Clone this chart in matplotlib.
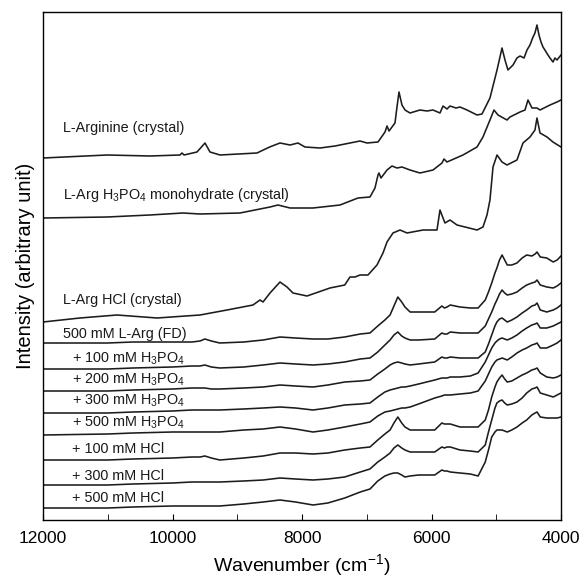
import matplotlib
matplotlib.use("Agg")
import matplotlib.pyplot as plt
from matplotlib.ticker import MultipleLocator

plt.rcParams['font.family'] = ['Liberation Sans', 'DejaVu Sans']
plt.rcParams['mathtext.fontset'] = 'custom'
plt.rcParams['mathtext.rm'] = 'Liberation Sans'
plt.rcParams['mathtext.it'] = 'Liberation Sans:italic'
plt.rcParams['mathtext.bf'] = 'Liberation Sans:bold'

# ---- crystal spectra (wavenumber, intensity in arbitrary offset units) ----
arg_wn = [12000, 11010, 10350, 9885, 9853, 9822, 9622, 9498, 9421, 9266, 8695, 8500, 8340, 8185, 8062,
          7954, 7722, 7490, 7259, 7104, 6996, 6826, 6718, 6687, 6656, 6564, 6533, 6502, 6456, 6409,
          6332, 6178, 6070, 5977, 5869, 5822, 5761, 5714, 5622, 5560, 5452, 5297, 5220, 5097, 4988,
          4911, 4865, 4819, 4741, 4680, 4633, 4571, 4525, 4479, 4432, 4402, 4371, 4340, 4309, 4278,
          4201, 4170, 4124, 4093, 4062, 4000]
arg_int = [362, 365, 364, 365, 367, 365, 368, 377, 368, 365, 367, 373, 377, 375, 377,
           373, 372, 374, 377, 379, 377, 378, 388, 394, 389, 397, 413, 428, 415, 410,
           407, 410, 409, 410, 407, 414, 411, 414, 412, 413, 410, 405, 406, 422, 450,
           472, 460, 450, 455, 462, 464, 462, 470, 475, 483, 487, 495, 485, 478, 473,
           465, 462, 458, 462, 460, 465]

phos_wn = [12000, 11010, 10350, 9838, 9575, 8958, 8494, 8371, 8185, 7830, 7413, 7135, 6950, 6873,
           6826, 6811, 6780, 6687, 6610, 6533, 6456, 6332, 6178, 5977, 5838, 5807, 5761, 5514,
           5297, 5205, 5097, 5035, 4973, 4834, 4788, 4633, 4556, 4510, 4448, 4371, 4324, 4170,
           4062, 4000]
phos_int = [302, 303, 305, 307, 306, 307, 313, 315, 312, 312, 315, 322, 323, 332,
            345, 347, 342, 350, 354, 352, 353, 350, 347, 350, 357, 361, 358, 365,
            373, 383, 400, 410, 405, 400, 403, 408, 410, 420, 412, 412, 410, 415,
            418, 420]

hcl_wn = [12000, 11429, 10857, 10239, 9575, 9158, 8757, 8649, 8602, 8494, 8340, 8232, 8139, 7923,
          7568, 7340, 7259, 7181, 7104, 6981, 6842, 6749, 6687, 6595, 6486, 6378, 6131, 5915,
          5869, 5822, 5792, 5714, 5606, 5297, 5205, 5143, 5097, 5050, 4988, 4911, 4834, 4680,
          4587, 4479, 4402, 4371, 4324, 4216, 4124, 4000]
hcl_int = [198, 202, 205, 202, 205, 210, 215, 220, 218, 227, 238, 233, 227, 224,
           232, 235, 243, 243, 245, 245, 255, 267, 278, 287, 290, 287, 290, 290,
           310, 302, 297, 300, 295, 290, 293, 305, 320, 353, 365, 358, 355, 360,
           377, 383, 390, 402, 387, 383, 378, 373]

# ---- freeze-dried solution spectra on a common wavenumber grid ----
sol_wn = [12000, 11000, 10610, 10000, 9700, 9575, 9500, 9400, 9270, 8900, 8600, 8340, 8100, 7830,
          7600, 7340, 7100, 6950, 6830, 6720, 6640, 6580, 6520, 6460, 6410, 6330, 6200, 5950,
          5840, 5800, 5760, 5710, 5560, 5400, 5280, 5170, 5120, 5070, 5020, 4990, 4950, 4910,
          4870, 4830, 4760, 4680, 4600, 4530, 4450, 4400, 4370, 4320, 4220, 4120, 4060, 4000]
fd_int = [177, 177, 178, 178, 178, 179, 181, 179, 177, 178, 180, 183, 182, 181,
          181, 183, 186, 187, 194, 200, 205, 214, 223, 218, 213, 208, 208, 208,
          214, 212, 213, 215, 213, 212, 212, 220, 228, 237, 247, 252, 260, 265,
          260, 255, 255, 257, 262, 265, 264, 266, 268, 263, 262, 258, 260, 264]
p100_int = [151, 151, 152, 153, 154, 154, 155, 153, 152, 153, 155, 157, 156, 155,
            156, 158, 161, 162, 168, 175, 180, 185, 188, 184, 182, 180, 180, 181,
            187, 186, 186, 188, 187, 187, 187, 194, 201, 208, 216, 220, 226, 230,
            227, 225, 226, 228, 232, 235, 237, 238, 240, 235, 233, 232, 234, 237]
p200_int = [129, 129, 130, 131, 132, 132, 132, 131, 131, 132, 133, 135, 134, 133,
            135, 138, 139, 140, 146, 151, 155, 157, 158, 157, 156, 155, 156, 158,
            163, 162, 162, 163, 162, 162, 162, 168, 176, 185, 194, 198, 201, 202,
            200, 198, 200, 203, 207, 210, 214, 215, 217, 210, 208, 210, 212, 215]
p300_int = [107, 107, 108, 109, 110, 110, 110, 110, 110, 111, 112, 113, 112, 110,
            112, 115, 116, 117, 123, 128, 130, 131, 132, 133, 133, 134, 136, 140,
            142, 142, 142, 143, 143, 144, 147, 158, 165, 172, 177, 179, 181, 182,
            181, 180, 182, 185, 189, 192, 195, 196, 197, 192, 192, 194, 196, 198]
p500_int = [85, 86, 87, 88, 88, 88, 88, 88, 88, 90, 91, 93, 91, 88,
            90, 93, 96, 98, 104, 108, 109, 110, 111, 112, 112, 113, 116, 122,
            124, 125, 125, 125, 126, 127, 129, 139, 146, 153, 158, 160, 161, 162,
            161, 160, 163, 167, 170, 172, 175, 176, 177, 172, 172, 175, 177, 180]
h100_int = [60, 60, 61, 62, 63, 63, 64, 62, 60, 62, 64, 67, 67, 66,
            67, 70, 72, 73, 80, 86, 90, 97, 103, 97, 93, 90, 90, 90,
            97, 96, 96, 96, 93, 93, 93, 100, 110, 123, 133, 138, 142, 145,
            141, 138, 139, 142, 145, 147, 150, 151, 152, 147, 143, 142, 143, 145]
h300_int = [35, 35, 36, 37, 38, 38, 38, 38, 38, 39, 40, 42, 41, 40,
            41, 43, 48, 51, 58, 63, 67, 72, 75, 72, 70, 68, 68, 68,
            73, 72, 73, 73, 70, 69, 68, 75, 88, 100, 112, 117, 119, 120,
            117, 115, 116, 118, 122, 127, 131, 132, 133, 127, 125, 123, 125, 127]
h500_int = [12, 12, 13, 14, 14, 14, 14, 14, 14, 16, 18, 20, 18, 15,
            17, 22, 28, 31, 39, 44, 46, 47, 47, 45, 43, 44, 45, 45,
            50, 49, 49, 48, 47, 46, 44, 58, 70, 83, 88, 90, 90, 90,
            89, 88, 90, 93, 97, 100, 105, 107, 108, 103, 102, 102, 102, 103]

labels = ["L-Arginine (crystal)",
          "L-Arg H$_3$PO$_4$ monohydrate (crystal)",
          "L-Arg HCl (crystal)",
          "500 mM L-Arg (FD)",
          "+ 100 mM H$_3$PO$_4$",
          "+ 200 mM H$_3$PO$_4$",
          "+ 300 mM H$_3$PO$_4$",
          "+ 500 mM H$_3$PO$_4$",
          "+ 100 mM HCl",
          "+ 300 mM HCl",
          "+ 500 mM HCl"]
label_wn = [11690, 11690, 11690, 11690, 11550, 11550, 11550, 11550, 11550, 11550, 11550]
label_y = [388, 320.5, 216, 182, 157, 136, 115, 93, 67, 39.5, 18]

fig = plt.figure(figsize=(5.88, 5.78), dpi=100)
ax = fig.add_axes([43/588, 58/578, 518/588, 508/578])

line_kw = dict(color='#1c1c1c', lw=1.15, solid_joinstyle='round')
ax.plot(arg_wn, arg_int, **line_kw)
ax.plot(phos_wn, phos_int, **line_kw)
ax.plot(hcl_wn, hcl_int, **line_kw)
for s in [fd_int, p100_int, p200_int, p300_int, p500_int, h100_int, h300_int, h500_int]:
    ax.plot(sol_wn, s, **line_kw)

for t, xw, yv in zip(labels, label_wn, label_y):
    ax.text(xw, yv, t, fontsize=10.4, va='baseline', ha='left', color='#1a1a1a')

ax.set_xlim(12000, 4000)
ax.set_ylim(0, 508)
ax.set_yticks([])
ax.xaxis.set_major_locator(MultipleLocator(2000))
ax.xaxis.set_minor_locator(MultipleLocator(1000))
ax.tick_params(axis='x', which='both', direction='in', top=False, labelsize=12.5, pad=8)
ax.tick_params(axis='x', which='major', length=4)
ax.tick_params(axis='x', which='minor', length=4)
for sp in ax.spines.values():
    sp.set_linewidth(1.0)

ax.set_xlabel("Wavenumber (cm$^{-1}$)", fontsize=14, labelpad=4)
ax.set_ylabel("Intensity (arbitrary unit)", fontsize=14.5, labelpad=6)

fig.savefig("out.png", dpi=100)
